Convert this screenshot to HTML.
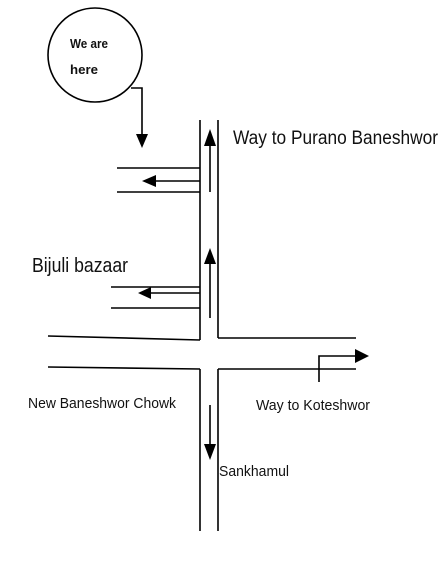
<!DOCTYPE html>
<html><head><style>html,body{margin:0;padding:0;background:#fff}svg{display:block}</style></head>
<body>
<svg width="444" height="578" viewBox="0 0 444 578" xmlns="http://www.w3.org/2000/svg">
<g stroke="#000" stroke-width="1.6" fill="none">
<circle cx="95" cy="55" r="47"/>
<polyline points="131,88 142,88 142,138"/>
<line x1="200" y1="120" x2="200" y2="340"/>
<line x1="218" y1="120" x2="218" y2="338"/>
<line x1="117" y1="168" x2="200" y2="168"/>
<line x1="117" y1="192" x2="200" y2="192"/>
<line x1="111" y1="287" x2="200" y2="287"/>
<line x1="111" y1="308" x2="200" y2="308"/>
<line x1="48" y1="336" x2="200" y2="340"/>
<line x1="218" y1="338" x2="356" y2="338"/>
<line x1="48" y1="367" x2="200" y2="369"/>
<line x1="218" y1="369" x2="356" y2="369"/>
<line x1="200" y1="369" x2="200" y2="531"/>
<line x1="218" y1="369" x2="218" y2="531"/>
<line x1="200" y1="181" x2="154" y2="181"/>
<line x1="200" y1="293" x2="150" y2="293"/>
<line x1="210" y1="192" x2="210" y2="145"/>
<line x1="210" y1="318" x2="210" y2="263"/>
<line x1="210" y1="405" x2="210" y2="446"/>
<polyline points="319,382 319,356 356,356"/>
</g>
<g fill="#000">
<path d="M136,134 L148,134 L142,148 z"/>
<path d="M156,175 L156,187 L142,181 z"/>
<path d="M151,287 L151,299 L138,293 z"/>
<path d="M204,146 L216,146 L210,129 z"/>
<path d="M204,264 L216,264 L210,248 z"/>
<path d="M204,444 L216,444 L210,460 z"/>
<path d="M355,349 L355,363 L369,356 z"/>
</g>
<g font-family="'Liberation Sans Narrow','Liberation Sans',sans-serif" fill="#111">
<text x="70" y="48" font-size="13" font-weight="bold" textLength="38" lengthAdjust="spacingAndGlyphs">We are</text>
<text x="70" y="74" font-size="13" font-weight="bold" textLength="28" lengthAdjust="spacingAndGlyphs">here</text>
<text x="233" y="144" font-size="19" textLength="205" lengthAdjust="spacingAndGlyphs">Way to Purano Baneshwor</text>
<text x="32" y="272" font-size="20" textLength="96" lengthAdjust="spacingAndGlyphs">Bijuli bazaar</text>
<text x="28" y="408" font-size="15" textLength="148" lengthAdjust="spacingAndGlyphs">New Baneshwor Chowk</text>
<text x="256" y="410" font-size="15" textLength="114" lengthAdjust="spacingAndGlyphs">Way to Koteshwor</text>
<text x="219" y="476" font-size="15" textLength="70" lengthAdjust="spacingAndGlyphs">Sankhamul</text>
</g>
</svg>
</body></html>
